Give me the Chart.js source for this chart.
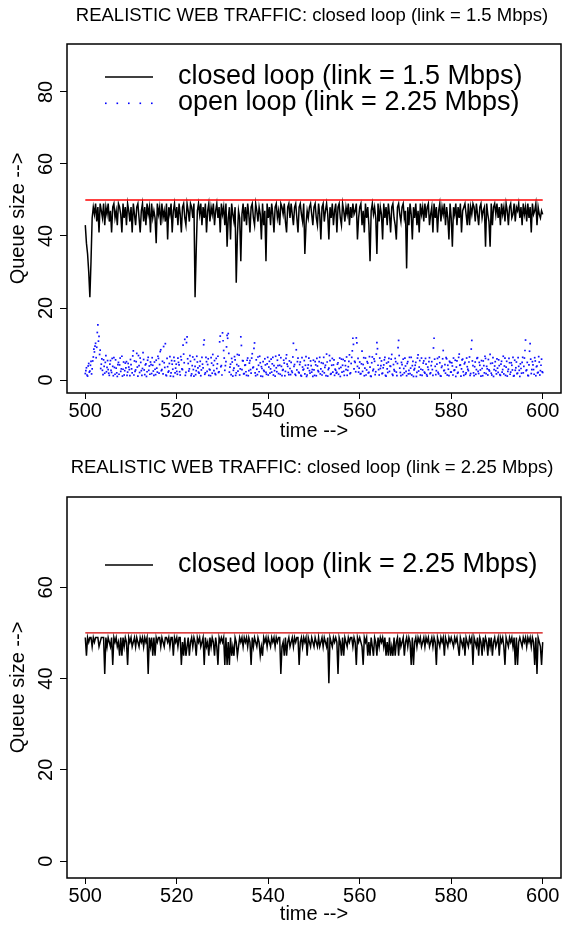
<!DOCTYPE html>
<html>
<head>
<meta charset="utf-8">
<script src="https://cdn.jsdelivr.net/npm/chart.js@4.4.1/dist/chart.umd.min.js"></script>
<style>
html, body { margin: 0; padding: 0; background: #fff; }
canvas { display: block; }
</style>
</head>
<body>
<canvas id="chart1" width="565" height="453"></canvas>
<canvas id="chart2" width="565" height="476"></canvas>
<script>
// sampled every 0.25 s, from t = 500 to t = 600
const t0 = 500, dt = 0.25;
const xTicks = [500, 520, 540, 560, 580, 600];
const yTicksTop = [0, 20, 40, 60, 80];
const yTicksBottom = [0, 20, 40, 60];
const bufferLimit = 50;

// closed loop, link = 1.5 Mbps (one row = 5 s)
const closedLoop15 = [
  43,38,35,30,23,33,45,48,46,49,44,48,41,49,47,45,49,43,48,46,
  49,44,47,41,48,49,45,47,43,49,48,46,41,49,45,48,43,49,47,44,
  48,41,49,46,43,48,49,45,41,47,49,44,48,43,49,46,48,41,49,45,
  47,45,38,49,46,48,43,49,45,47,44,49,39,48,46,49,41,47,49,45,
  48,43,49,46,41,48,49,45,43,49,47,44,49,48,45,49,23,36,47,49,
  46,49,43,48,45,49,41,47,49,44,48,46,49,43,47,49,45,48,41,49,
  46,48,43,49,37,45,48,39,49,46,44,48,27,40,47,45,33,46,49,44,
  48,43,49,46,41,48,49,45,43,49,47,44,48,46,39,49,43,47,33,49,
  45,48,43,49,46,41,48,49,45,47,43,49,48,46,49,44,41,48,49,45,
  49,46,43,48,49,45,41,48,49,46,44,49,35,43,47,45,48,49,46,43,
  48,49,45,43,49,46,39,48,49,44,47,49,46,39,48,45,49,43,47,49,
  41,48,49,45,43,49,47,44,48,46,49,43,48,45,49,46,47,49,39,45,
  48,49,43,47,41,49,45,48,43,33,47,49,46,48,45,35,49,44,48,46,
  39,49,45,48,43,49,46,41,48,49,45,43,39,48,49,46,44,48,49,45,
  47,31,48,43,49,46,39,48,45,49,43,47,41,49,46,48,44,49,45,48,
  49,43,46,48,41,49,45,48,41,47,49,44,48,46,49,43,48,45,39,49,
  45,37,48,46,49,43,48,45,49,41,47,48,49,46,43,49,43,48,46,49,
  48,44,49,46,43,48,49,45,47,48,37,49,46,44,37,49,43,48,49,46,
  49,45,48,43,49,46,48,44,49,47,43,48,49,45,46,49,44,48,47,49,
  45,48,43,49,46,48,44,49,45,48,41,49,46,47,49,43,48,46,45,47,
  46
];

// open loop, link = 2.25 Mbps, samples on the 0.25 s grid
const openLoop225 = [
  1.8,3.4,1.1,4.6,2.5,5.2,3.1,6.4,7.8,10.2,9.1,15.3,12.1,8.3,4.4,2.7,5.6,1.9,6.8,3.5,
  2.9,1.3,5.4,2.1,3.8,6.2,1.6,3.3,1.0,4.9,4.2,2.4,6.6,3.0,1.4,4.7,5.1,2.2,3.6,1.2,
  4.3,2.0,8.1,5.3,2.8,7.4,1.1,4.0,6.1,2.6,3.2,5.7,1.5,4.5,2.3,6.3,3.9,5.0,1.8,4.1,
  1.3,3.0,5.5,2.2,6.0,4.3,8.4,2.9,1.7,4.8,10.1,1.2,3.7,2.5,6.5,2.0,4.4,1.0,5.3,3.3,
  2.4,6.1,4.2,1.4,5.6,2.9,7.2,11.3,2.1,12.0,4.6,3.1,5.2,1.7,6.4,1.1,3.8,2.6,5.0,2.2,
  3.9,1.2,6.3,3.4,11.1,2.0,5.1,4.3,1.3,2.8,6.2,1.9,4.1,5.4,1.5,3.2,6.6,2.3,12.2,4.0,
  13.1,8.2,2.7,5.1,12.4,12.9,2.2,4.4,6.0,1.1,3.3,5.6,2.0,7.1,3.9,1.4,12.0,2.9,5.3,1.8,
  4.2,1.3,6.1,2.6,5.4,1.9,7.3,3.6,10.3,1.2,3.0,6.4,2.3,4.8,3.7,1.0,2.7,5.9,2.1,4.5,
  1.4,5.2,3.1,2.2,6.3,4.0,1.1,3.4,5.5,1.8,4.1,6.2,1.2,2.9,4.7,2.4,7.0,3.8,1.5,3.2,
  4.9,2.1,10.2,4.3,1.3,2.8,6.1,2.0,5.0,1.1,3.6,3.0,1.7,6.5,1.4,4.2,2.6,5.3,2.2,1.0,
  2.8,5.1,1.2,3.9,2.3,6.3,3.1,1.4,4.6,2.0,4.1,7.2,1.1,3.3,5.4,1.8,6.0,4.2,1.3,2.7,
  2.1,4.8,3.2,1.0,5.8,4.1,2.4,5.3,2.9,1.3,3.7,7.0,2.0,6.3,11.6,3.1,4.9,11.7,3.8,2.2,
  5.0,1.8,8.0,4.3,1.2,6.1,2.8,4.7,2.1,3.6,1.0,6.4,3.0,5.2,2.3,10.4,4.1,1.4,3.2,5.3,
  1.9,4.2,6.3,1.1,3.1,5.0,2.4,3.8,7.1,1.3,2.9,6.0,2.2,4.6,11.0,3.3,1.2,4.3,5.8,2.0,
  3.9,1.2,5.1,2.7,1.8,6.3,4.0,1.0,3.2,4.9,2.1,7.0,3.6,1.4,6.1,2.8,5.3,1.9,4.4,1.1,
  2.9,6.2,2.0,5.1,1.3,11.6,3.8,2.6,6.0,1.7,4.8,1.1,3.9,8.2,2.7,1.9,5.9,4.1,1.2,4.9,
  2.2,3.9,6.1,2.8,1.0,5.3,2.1,7.2,4.2,3.1,5.8,1.3,4.9,2.0,3.7,2.6,6.4,1.8,11.0,4.0,
  1.2,5.0,2.9,6.2,1.8,4.1,1.1,3.2,5.3,2.0,6.0,3.8,1.4,2.8,7.1,1.9,4.7,1.0,3.9,2.6,
  5.9,2.1,4.0,1.3,5.2,2.9,1.7,6.1,3.6,1.1,3.0,4.8,2.2,4.1,6.3,1.2,2.7,5.0,1.9,3.8,
  1.0,3.2,4.9,2.0,6.1,11.1,2.8,1.3,4.2,10.1,1.8,5.1,2.9,6.2,1.2,3.9,2.1,5.0,2.6,5.8,
  2.1
];
// open loop, the samples in between (t = 500.125, 500.375, ...)
const openLoop225Mid = [
  2.6,1.4,3.9,2.2,4.1,1.7,5.3,8.6,9.4,6.2,13.2,10.8,7.1,3.2,5.9,1.5,3.8,4.9,2.3,5.4,
  1.9,4.4,2.7,6.0,1.2,3.5,5.6,2.0,4.3,1.6,6.1,3.1,1.1,5.0,2.6,3.4,1.3,4.6,2.9,5.7,
  3.1,6.7,1.4,2.4,5.1,3.6,6.8,2.1,4.9,1.3,7.6,2.8,4.2,1.0,5.5,2.7,1.6,4.3,6.2,2.5,
  5.0,1.5,3.3,6.6,1.9,7.9,2.6,5.2,9.3,3.5,1.4,6.0,2.2,4.6,1.1,5.4,3.0,6.3,2.0,4.4,
  1.6,4.9,2.3,6.5,3.1,9.7,4.8,1.3,10.4,5.9,2.5,6.8,1.2,4.0,2.9,5.7,1.5,6.6,3.4,1.9,
  5.2,2.8,4.4,9.8,1.6,6.3,2.4,5.9,3.0,1.2,4.7,7.1,2.6,1.8,6.0,4.5,2.1,10.6,3.7,1.4,
  10.9,6.1,4.0,9.2,11.6,7.4,3.6,1.5,5.0,2.7,6.5,1.3,4.3,2.5,6.9,3.1,9.6,5.4,1.7,4.1,
  2.3,5.5,1.2,4.7,2.9,6.1,3.4,8.8,2.0,5.6,1.5,4.1,6.6,1.1,3.2,5.1,2.4,4.2,1.6,6.3,
  3.6,1.9,5.8,4.5,1.4,2.6,6.6,2.3,4.0,6.9,1.6,3.8,2.7,5.5,1.2,6.0,4.4,2.1,5.3,1.5,
  2.5,6.4,3.8,1.6,8.4,5.1,2.2,4.3,1.3,6.2,2.8,5.4,4.1,1.0,3.3,6.1,1.9,4.0,2.9,5.5,
  1.3,4.2,6.0,2.6,5.1,1.7,4.8,2.4,6.3,3.5,1.2,5.0,2.9,6.8,1.6,4.1,2.2,5.6,3.0,1.9,
  4.4,1.6,6.1,3.5,2.2,5.7,1.3,4.0,6.4,2.7,5.2,1.8,4.6,8.1,9.9,5.2,2.3,10.3,6.0,3.3,
  1.7,4.5,2.4,6.2,3.3,1.4,5.1,2.0,6.5,1.1,4.8,2.6,5.9,1.5,7.2,8.7,2.9,6.1,4.0,1.8,
  3.4,5.6,1.3,4.7,2.1,6.0,3.9,5.8,1.6,4.3,2.5,5.1,1.2,9.0,6.8,2.1,4.9,1.5,3.2,6.1,
  2.4,4.6,1.7,6.3,3.3,1.4,5.2,2.8,4.1,1.0,6.1,2.5,5.4,3.0,1.3,4.7,2.2,6.0,1.5,3.6,
  5.1,1.8,4.0,2.9,8.9,5.8,1.5,4.4,2.1,6.4,1.2,3.5,5.9,2.6,4.3,6.2,1.4,3.0,5.2,2.2,
  4.8,1.4,2.7,5.5,3.6,1.9,6.3,4.1,1.1,5.6,2.3,4.5,1.6,6.1,3.0,5.0,1.3,8.6,5.3,2.0,
  3.7,1.6,6.0,2.4,4.9,2.8,5.4,1.2,4.0,6.6,1.8,3.1,5.7,2.5,4.6,1.4,6.2,2.9,5.1,1.7,
  3.3,5.6,1.5,4.4,2.2,6.6,3.9,1.3,5.2,2.4,6.0,1.6,4.8,2.8,1.1,5.5,3.4,1.8,6.2,2.7,
  4.5,1.9,6.3,3.8,8.2,2.6,4.9,1.2,8.0,5.8,2.9,4.2,1.6,5.3,3.7,2.0,6.5,1.4,4.1,2.3
];

// closed loop, link = 2.25 Mbps
const closedLoop225 = [
  49,45,49,48,49,49,47,49,48,49,49,49,47,48,49,49,49,41,49,47,
  49,48,47,49,43,49,48,49,47,48,45,49,45,49,47,49,48,43,49,48,
  49,47,48,49,47,49,48,47,49,48,49,47,49,48,49,41,49,47,49,45,
  49,45,49,48,49,49,47,49,48,47,49,49,48,49,47,49,49,45,49,48,
  49,47,49,49,43,48,45,49,45,47,49,45,48,49,47,49,48,45,49,48,
  49,47,48,49,43,49,47,48,45,49,47,49,48,45,49,47,43,49,48,49,
  48,49,43,49,43,48,43,49,45,47,45,49,48,45,47,49,48,49,47,49,
  48,49,47,49,48,43,49,47,49,48,47,49,48,45,47,45,49,48,49,47,
  49,48,47,49,48,49,47,49,48,49,49,41,47,48,45,49,45,48,49,47,
  48,49,47,49,48,49,49,43,48,49,47,49,48,49,45,49,48,47,49,48,
  47,49,48,47,49,47,48,49,47,49,48,47,49,39,49,48,47,49,48,49,
  48,41,49,48,45,49,45,49,48,47,49,48,49,49,47,49,48,43,49,48,
  49,48,47,43,49,48,49,45,48,45,49,47,45,49,48,45,49,47,49,48,
  49,47,49,45,48,45,49,45,47,45,49,45,48,49,45,49,47,48,49,45,
  48,49,47,49,48,43,49,43,48,49,47,49,48,49,47,48,49,47,49,48,
  49,47,48,49,47,49,48,43,49,48,47,49,48,49,45,49,48,47,49,48,
  49,48,47,49,48,49,47,45,49,48,47,49,45,49,48,47,49,48,49,43,
  49,48,47,49,45,49,48,45,49,47,49,48,45,49,47,49,45,48,49,47,
  48,49,45,49,48,49,47,43,49,48,47,49,48,49,47,49,43,49,43,48,
  49,48,47,49,48,49,47,49,48,49,47,49,48,43,49,41,49,48,47,43,
  48
];

const FONT = '"Liberation Sans", Arial, Helvetica, sans-serif';

function pts(vals, offset) {
  return vals.map((v, i) => ({ x: t0 + offset + i * dt, y: v }));
}
function limitLine() {
  return [{ x: xTicks[0], y: bufferLimit }, { x: xTicks[xTicks.length - 1], y: bufferLimit }];
}

// box, titles, rotated y labels and the legend, R style
function decor(cfg) {
  return {
    id: 'decor',
    afterDraw(chart) {
      const ctx = chart.ctx;
      const a = chart.chartArea;
      const ys = chart.scales.y;
      ctx.save();
      ctx.strokeStyle = '#000';
      ctx.lineWidth = 1.5;
      ctx.strokeRect(a.left, a.top, a.right - a.left, a.bottom - a.top);

      ctx.fillStyle = '#000';
      ctx.textAlign = 'center';
      ctx.textBaseline = 'middle';
      ctx.font = '18.5px ' + FONT;
      ctx.fillText(cfg.title, (a.left + a.right) / 2 - 2, cfg.titleY);

      ctx.font = '20px ' + FONT;
      ctx.fillText('time -->', (a.left + a.right) / 2, cfg.xTitleY);

      ys.ticks.forEach(tk => {
        ctx.save();
        ctx.translate(46, ys.getPixelForValue(tk.value));
        ctx.rotate(-Math.PI / 2);
        ctx.fillText(String(tk.value), 0, 0);
        ctx.restore();
      });
      ctx.save();
      ctx.translate(18, (a.top + a.bottom) / 2);
      ctx.rotate(-Math.PI / 2);
      ctx.fillText('Queue size -->', 0, 0);
      ctx.restore();

      ctx.font = '27px ' + FONT;
      ctx.textAlign = 'left';
      cfg.legend.forEach((item, k) => {
        const y = cfg.legendY + k * 26;
        if (item.dots) {
          ctx.fillStyle = item.color;
          for (let d = 0; d < 5; d++) ctx.fillRect(105 + d * 11.5, y - 0.5, 1.6, 1.6);
        } else {
          ctx.strokeStyle = item.color;
          ctx.lineWidth = 1.3;
          ctx.beginPath();
          ctx.moveTo(105, y);
          ctx.lineTo(153, y);
          ctx.stroke();
        }
        ctx.fillStyle = '#000';
        ctx.fillText(item.label, 178, y);
      });
      ctx.restore();
    }
  };
}

function makeChart(id, cfg) {
  return new Chart(document.getElementById(id), {
    type: 'line',
    data: { datasets: cfg.datasets },
    options: {
      responsive: false,
      animation: false,
      devicePixelRatio: 1,
      layout: { padding: { top: 44, right: 4, left: 0, bottom: 0 } },
      plugins: { legend: { display: false }, tooltip: { enabled: false } },
      scales: {
        x: {
          type: 'linear', min: 496, max: 604,
          afterBuildTicks: s => { s.ticks = xTicks.map(v => ({ value: v })); },
          afterFit: s => { s.height = cfg.xHeight; },
          ticks: { color: '#000', font: { family: FONT, size: 20 }, padding: 0, maxRotation: 0, autoSkip: false },
          grid: { drawOnChartArea: false, tickLength: 6, color: '#000', lineWidth: 1 },
          border: { display: false }
        },
        y: {
          type: 'linear', min: cfg.yMin, max: cfg.yMax,
          afterBuildTicks: s => { s.ticks = cfg.yTicks.map(v => ({ value: v })); },
          afterFit: s => { s.width = 67; },
          ticks: { display: false },
          grid: { drawOnChartArea: false, tickLength: 7, color: '#000', lineWidth: 1 },
          border: { display: false }
        }
      }
    },
    plugins: [decor(cfg)]
  });
}

makeChart('chart1', {
  title: 'REALISTIC WEB TRAFFIC: closed loop (link = 1.5 Mbps)',
  titleY: 16, xTitleY: 431, xHeight: 60,
  yMin: -3.6, yMax: 93.3, yTicks: yTicksTop,
  legendY: 77,
  legend: [
    { label: 'closed loop (link = 1.5 Mbps)', color: '#000' },
    { label: 'open loop (link = 2.25 Mbps)', color: '#0000ff', dots: true }
  ],
  datasets: [
    { data: limitLine(), borderColor: '#ff0000', borderWidth: 1.6, pointRadius: 0 },
    { data: pts(openLoop225, 0).concat(pts(openLoop225Mid, dt / 2)), showLine: false,
      pointStyle: 'rect', pointRadius: 1.2, backgroundColor: '#1010ff', borderWidth: 0 },
    { data: pts(closedLoop15, 0), borderColor: '#000', borderWidth: 1.5, pointRadius: 0, tension: 0 }
  ]
});

makeChart('chart2', {
  title: 'REALISTIC WEB TRAFFIC: closed loop (link = 2.25 Mbps)',
  titleY: 15, xTitleY: 461, xHeight: 51,
  yMin: -3.7, yMax: 79.8, yTicks: yTicksBottom,
  legendY: 112,
  legend: [
    { label: 'closed loop (link = 2.25 Mbps)', color: '#000' }
  ],
  datasets: [
    { data: limitLine(), borderColor: '#d00000', borderWidth: 1.2, pointRadius: 0 },
    { data: pts(closedLoop225, 0), borderColor: '#000', borderWidth: 1.5, pointRadius: 0, tension: 0 }
  ]
});
</script>
</body>
</html>
